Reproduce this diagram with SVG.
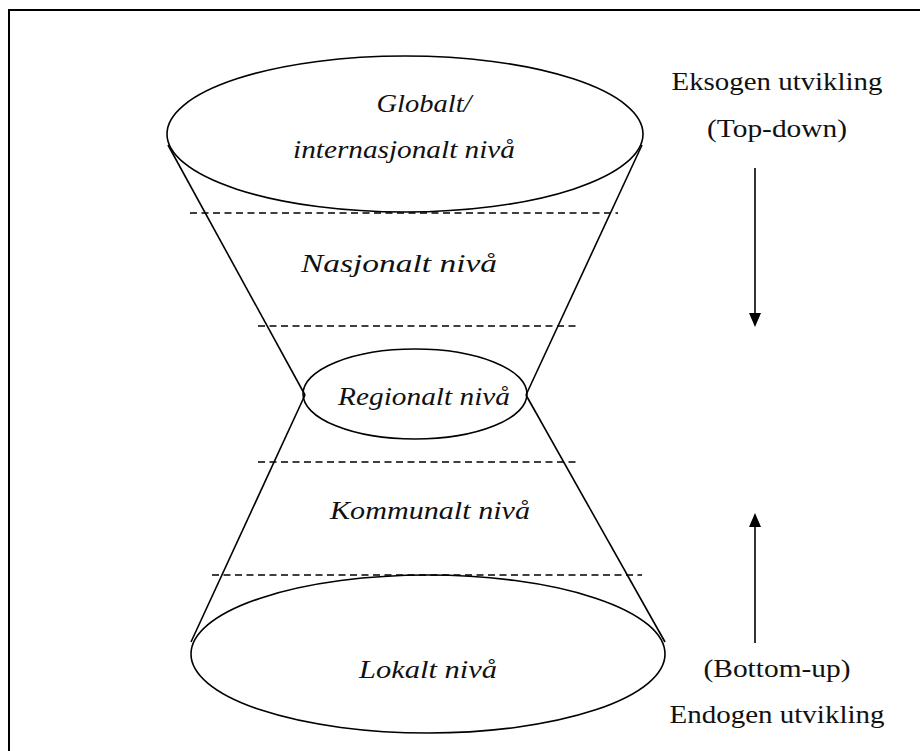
<svg xmlns="http://www.w3.org/2000/svg" width="920" height="751" viewBox="0 0 920 751">
<style>
.shape{fill:none;stroke:#000;stroke-width:1.6}
.dash{fill:none;stroke:#000;stroke-width:1.5;stroke-dasharray:7,4.5}
.lbl{font-family:"Liberation Serif","Times New Roman",serif;font-style:italic;font-size:26px;fill:#111;text-anchor:middle}
.side{font-family:"Liberation Serif","Times New Roman",serif;font-size:26px;fill:#111;text-anchor:middle}
.arr{stroke:#000;stroke-width:1.6;fill:none}
</style>
<rect width="920" height="751" fill="#fff"/>
<path d="M9,760 L9,10 L925,10" fill="none" stroke="#000" stroke-width="2"/>
<g id="connectors">
<line class="shape" x1="168" y1="145" x2="305" y2="395"/>
<line class="shape" x1="642" y1="145" x2="526" y2="395"/>
<line class="shape" x1="305" y1="395" x2="191" y2="642"/>
<line class="shape" x1="526" y1="395" x2="665" y2="642"/>
<line class="dash" x1="190" y1="213" x2="618" y2="213"/>
<line class="dash" x1="258" y1="326" x2="576" y2="326"/>
<line class="dash" x1="258" y1="462" x2="576" y2="462"/>
<line class="dash" x1="212" y1="575" x2="642" y2="575"/>
<line class="arr" x1="755" y1="168" x2="755" y2="314"/>
<path d="M749,313 L761,313 L755,327 Z" fill="#000"/>
<line class="arr" x1="755" y1="643" x2="755" y2="526"/>
<path d="M749,527 L761,527 L755,513 Z" fill="#000"/>
</g>
<g id="global">
<ellipse class="shape" cx="405" cy="134" rx="238" ry="78"/>
<text class="lbl" x="424" y="112" textLength="95" lengthAdjust="spacingAndGlyphs">Globalt/</text>
<text class="lbl" x="404" y="158" textLength="222" lengthAdjust="spacingAndGlyphs">internasjonalt nivå</text>
</g>
<g id="nasjonalt">
<text class="lbl" x="399" y="272" textLength="196" lengthAdjust="spacingAndGlyphs">Nasjonalt nivå</text>
</g>
<g id="regionalt">
<ellipse class="shape" cx="415" cy="394" rx="112" ry="45"/>
<text class="lbl" x="424" y="405" textLength="172" lengthAdjust="spacingAndGlyphs">Regionalt nivå</text>
</g>
<g id="kommunalt">
<text class="lbl" x="430" y="519" textLength="200" lengthAdjust="spacingAndGlyphs">Kommunalt nivå</text>
</g>
<g id="lokalt">
<ellipse class="shape" cx="428" cy="654" rx="237" ry="79"/>
<text class="lbl" x="428" y="678" textLength="138" lengthAdjust="spacingAndGlyphs">Lokalt nivå</text>
</g>
<g id="eksogen">
<text class="side" x="777" y="90" textLength="211" lengthAdjust="spacingAndGlyphs">Eksogen utvikling</text>
<text class="side" x="777" y="137" textLength="140" lengthAdjust="spacingAndGlyphs">(Top-down)</text>
</g>
<g id="endogen">
<text class="side" x="777" y="677" textLength="147" lengthAdjust="spacingAndGlyphs">(Bottom-up)</text>
<text class="side" x="777" y="723" textLength="215" lengthAdjust="spacingAndGlyphs">Endogen utvikling</text>
</g>
</svg>
